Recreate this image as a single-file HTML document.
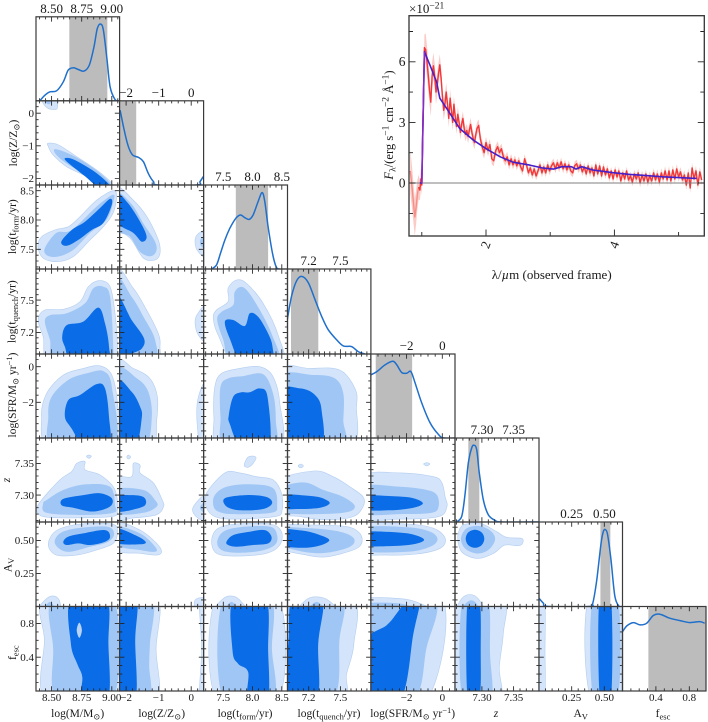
<!DOCTYPE html>
<html lang="en">
<head>
<meta charset="utf-8">
<title>Corner plot and spectrum</title>
<style>
html,body{margin:0;padding:0;background:#fff;width:708px;height:722px;overflow:hidden}
svg{display:block;filter:blur(.3px)}
text{font-family:"Liberation Serif","DejaVu Serif",serif;fill:#1a1a1a}
.sub{font-size:8.5px}
.ssub{font-size:9.5px}
</style>
</head>
<body>
<svg id="fig" xmlns="http://www.w3.org/2000/svg" width="708" height="722" viewBox="0 0 708 722">
<rect width="708" height="722" fill="#fff"/>
<g id="plots"></g>
<g id="spec"></g>
<g font-size="11.5" text-anchor="middle">
<text x="77.7" y="717">log(M/M<tspan class="sub" dy="2.5">⊙</tspan><tspan dy="-2.5">)</tspan></text>
<text x="161.7" y="717">log(Z/Z<tspan class="sub" dy="2.5">⊙</tspan><tspan dy="-2.5">)</tspan></text>
<text x="245" y="717">log(t<tspan class="sub" dy="2.5">form</tspan><tspan dy="-2.5">/yr)</tspan></text>
<text x="329" y="717">log(t<tspan class="sub" dy="2.5">quench</tspan><tspan dy="-2.5">/yr)</tspan></text>
<text x="412.7" y="717">log(SFR/M<tspan class="sub" dy="2.5">⊙</tspan><tspan dy="-2.5"> yr</tspan><tspan class="sub" dy="-4">−1</tspan><tspan dy="4">)</tspan></text>
<text x="496" y="717" font-style="italic">z</text>
<text x="580.7" y="717">A<tspan class="sub" dy="2.5">V</tspan></text>
<text x="663" y="717">f<tspan class="sub" dy="2.5">esc</tspan></text>
</g>
<g font-size="11.5" text-anchor="middle">
<text transform="translate(17,143) rotate(-90)">log(Z/Z<tspan class="sub" dy="2.5">⊙</tspan><tspan dy="-2.5">)</tspan></text>
<text transform="translate(16,226.7) rotate(-90)">log(t<tspan class="sub" dy="2.5">form</tspan><tspan dy="-2.5">/yr)</tspan></text>
<text transform="translate(15.5,311.7) rotate(-90)">log(t<tspan class="sub" dy="2.5">quench</tspan><tspan dy="-2.5">/yr)</tspan></text>
<text transform="translate(16,395) rotate(-90)">log(SFR/M<tspan class="sub" dy="2.5">⊙</tspan><tspan dy="-2.5"> yr</tspan><tspan class="sub" dy="-4">−1</tspan><tspan dy="4">)</tspan></text>
<text transform="translate(10,480) rotate(-90)" font-style="italic">z</text>
<text transform="translate(11.5,565) rotate(-90)">A<tspan class="sub" dy="2.5">V</tspan></text>
<text transform="translate(16,652.7) rotate(-90)">f<tspan class="sub" dy="2.5">esc</tspan></text>
</g>
<text x="409" y="13" font-size="13">×10<tspan font-size="9.5" dy="-4.5">−21</tspan></text>
<text transform="translate(393,125) rotate(-90)" font-size="12.6" text-anchor="middle"><tspan font-style="italic">F</tspan><tspan class="ssub" dy="2.5">λ</tspan><tspan dy="-2.5">/(erg s</tspan><tspan class="ssub" dy="-4.5">−1</tspan><tspan dy="4.5"> cm</tspan><tspan class="ssub" dy="-4.5">−2</tspan><tspan dy="4.5"> Å</tspan><tspan class="ssub" dy="-4.5">−1</tspan><tspan dy="4.5">)</tspan></text>
<text x="551.7" y="279" font-size="13" text-anchor="middle">λ/<tspan font-style="italic">µ</tspan>m (observed frame)</text>
</svg>
<script>
// ---- axis configuration (data limits per parameter) ----
const axisLo = [8.37, -2.2, 7.164, 7.0, -4.0, 7.2575, 0, 0];
const axisHi = [9.065, 0.38, 8.597, 7.788, 0.71, 7.39, 0.639, 1.0];
const paramIds = ['mass', 'metallicity', 'tform', 'tquench', 'sfr', 'redshift', 'av', 'fesc'];
const majorTicks = [[8.5,8.75,9],[-2,-1,0],[7.5,8,8.5],[7.2,7.5],[-2,0],[7.3,7.35],[0.25,0.5],[0.4,0.8]];
const tickText = [['8.50','8.75','9.00'],['−2','−1','0'],['7.5','8.0','8.5'],['7.2','7.5'],['−2','0'],['7.30','7.35'],['0.25','0.50'],['0.4','0.8']];
const minorStep = [0.05, 0.2, 0.1, 0.05, 0.4, 0.01, 0.05, 0.1];

// ---- 1D marginal posteriors ----
const pdfM_x = [8.402,8.444,8.486,8.541,8.597,8.638,8.68,8.722,8.769,8.813,8.852,8.88,8.908,8.93,8.958,8.986,9.027,9.055];
const pdfM_y = [0,.067,.107,.119,.226,.365,.393,.373,.353,.425,.643,.861,.913,.841,.524,.167,.016,0];
const pdfZ_x = [-2.185,-2.06,-1.93,-1.8,-1.62,-1.47,-1.32,-1.16,-1.01,.17,.27,.37];
const pdfZ_y = [.889,.652,.455,.356,.328,.277,.138,.04,0,0,.04,.1];
const pdfTf_x = [7.3,7.384,7.453,7.527,7.612,7.714,7.794,7.868,7.942,8.01,8.095,8.164,8.209,8.266,8.34,8.408,8.465];
const pdfTf_y = [0,.048,.187,.345,.484,.603,.643,.611,.591,.643,.802,.909,.802,.504,.187,.02,0];
const pdfTq_x = [6.998,7.039,7.086,7.134,7.196,7.259,7.322,7.385,7.464,7.527,7.605,7.668,7.731];
const pdfTq_y = [.405,.683,.861,.913,.841,.643,.444,.286,.167,.095,.087,.028,0];
const pdfS_x = [-4.01,-3.67,-3.21,-2.78,-2.55,-2.27,-1.99,-1.76,-1.52,-1.15,-.68,-.21,.07,.7];
const pdfS_y = [.751,.79,.87,.913,.87,.779,.771,.79,.652,.415,.178,.04,0,0];
const pdfZz_x = [7.26,7.268,7.273,7.2785,7.2838,7.2875,7.2917,7.2959,7.3022,7.31,7.3206,7.331,7.389];
const pdfZz_y = [0,.067,.306,.702,.881,.913,.861,.583,.266,.087,.02,0,0];
const pdfA_x = [-.005,.033,.071,.387,.412,.442,.475,.493,.508,.525,.551,.581,.614,.632];
const pdfA_y = [.107,.04,0,0,.04,.316,.751,.889,.909,.85,.553,.119,0,0];
const pdfF_x = [0,.052,.131,.21,.29,.369,.448,.567,.687,.806,.925,.984];
const pdfF_y = [.702,.77,.81,.782,.802,.893,.909,.861,.833,.81,.821,.802];
const bandLo = [8.647,-2.17,7.714,7.033,-3.73,7.2785,.47,.31];
const bandHi = [8.963,-1.69,8.266,7.291,-1.69,7.2959,.546,1.0];

// ---- 2D contours: [outer, middle, inner] levels, each a list of blobs of [x,y] data points ----
const M_Z = [
[[[8.472,-.92],[8.555,-.97],[8.708,-1.33],[8.875,-1.74],[9.0,-2.15],[9.0,-2.35],[8.792,-1.94],[8.625,-1.64],[8.513,-1.28],[8.472,-1.02]],
 [[8.42,.5],[8.43,.3],[8.47,.15],[8.54,.12],[8.55,.3],[8.54,.5]]],
[[[8.53,-1.1],[8.667,-1.28],[8.85,-1.69],[8.985,-2.14],[8.96,-2.3],[8.79,-1.89],[8.64,-1.58],[8.54,-1.28]],
 [[8.44,.5],[8.46,.3],[8.49,.3],[8.5,.5]]],
[[[8.61,-1.38],[8.69,-1.43],[8.875,-1.84],[9.0,-2.3],[8.9,-2.3],[8.78,-1.94],[8.64,-1.53]]]];
const M_Tf = [
[[[8.386,7.544],[8.417,7.715],[8.54,7.84],[8.64,7.885],[8.736,8.056],[8.875,8.34],[9.01,8.5],[9.04,8.4],[9.01,8.115],[8.93,7.885],[8.82,7.66],[8.68,7.375],[8.55,7.29],[8.43,7.35]]],
[[[8.444,7.52],[8.54,7.78],[8.667,7.83],[8.875,8.23],[9.01,8.43],[9.01,8.29],[8.955,8.0],[8.82,7.78],[8.68,7.49],[8.55,7.375],[8.46,7.4]]],
[[[8.58,7.63],[8.667,7.83],[8.777,7.97],[8.9,8.2],[8.985,8.36],[9.0,8.26],[8.93,7.95],[8.833,7.83],[8.722,7.66],[8.625,7.56]]]];
const Z_Tf = [
[[[-2.3,8.55],[-1.78,8.34],[-1.36,8.056],[-1.01,7.66],[-.96,7.43],[-1.11,7.32],[-1.47,7.35],[-1.83,7.66],[-2.3,7.94]],
 [[.45,7.8],[.17,7.74],[.12,7.6],[.21,7.46],[.45,7.38]]],
[[[-2.3,8.45],[-1.83,8.27],[-1.47,7.94],[-1.11,7.63],[-1.08,7.46],[-1.27,7.38],[-1.58,7.46],[-1.88,7.715],[-2.3,7.86]],
 [[.45,7.72],[.3,7.68],[.28,7.58],[.45,7.5]]],
[[[-2.3,8.45],[-1.94,8.285],[-1.57,7.97],[-1.37,7.715],[-1.52,7.63],[-1.78,7.78],[-2.3,7.98]]]];
const M_Tq = [
[[[8.388,7.315],[8.444,7.408],[8.597,7.414],[8.736,7.485],[8.805,7.624],[8.9,7.68],[8.986,7.624],[9.027,7.377],[9.047,7.036],[9.03,6.9],[8.5,6.9],[8.43,7.16]]],
[[[8.444,7.3],[8.486,7.36],[8.625,7.377],[8.777,7.47],[8.847,7.61],[8.93,7.624],[8.986,7.53],[9.013,7.036],[9.0,6.9],[8.54,6.9],[8.486,7.13]]],
[[[8.588,7.16],[8.625,7.268],[8.763,7.3],[8.888,7.43],[8.944,7.284],[8.977,7.067],[8.963,6.9],[8.68,6.9],[8.61,7.067]]]];
const Z_Tq = [
[[[-2.3,7.75],[-1.78,7.61],[-1.37,7.408],[-1.01,7.19],[-.96,7.067],[-1.06,6.9],[-2.3,6.9]],
 [[.45,7.44],[.17,7.36],[.12,7.28],[.22,7.175],[.45,7.13]]],
[[[-2.3,7.68],[-1.83,7.53],[-1.47,7.346],[-1.11,7.13],[-1.14,6.9],[-2.3,6.9]]],
[[[-2.3,7.53],[-1.83,7.315],[-1.45,7.145],[-1.52,7.05],[-1.83,7.0],[-2.3,6.9]]]];
const Tf_Tq = [
[[[7.33,7.33],[7.384,7.408],[7.583,7.485],[7.583,7.61],[7.726,7.686],[7.896,7.655],[8.18,7.47],[8.437,7.175],[8.505,6.9],[7.726,6.9],[7.413,7.175]]],
[[[7.396,7.315],[7.47,7.39],[7.669,7.454],[7.697,7.578],[7.84,7.618],[8.04,7.485],[8.323,7.19],[8.437,6.9],[7.669,6.9],[7.5,7.13]]],
[[[7.527,7.3],[7.669,7.315],[7.868,7.26],[7.953,7.377],[8.095,7.345],[8.266,7.19],[8.34,7.067],[8.323,6.9],[7.84,6.9],[7.61,7.145]]]];
const M_S = [
[[[8.416,-2.81],[8.458,-1.5],[8.597,-.47],[8.763,-.1],[8.9,.05],[9.0,-.47],[9.047,-2.06],[9.047,-4.5],[8.486,-4.5]]],
[[[8.472,-2.81],[8.5,-1.69],[8.638,-.75],[8.79,-.38],[8.93,-.25],[9.0,-1.13],[9.013,-4.5],[8.513,-4.5]]],
[[[8.61,-2.81],[8.638,-1.88],[8.736,-1.59],[8.875,-.98],[8.944,-1.22],[8.977,-2.81],[8.977,-4.5],[8.777,-4.5],[8.666,-3.47]]]];
const Z_S = [
[[[-2.3,.12],[-1.78,-.1],[-1.27,-.66],[-1.04,-1.69],[-1.06,-3],[-1.21,-4.5],[-2.3,-4.5]],
 [[.45,-1.03],[.22,-1.69],[.17,-2.81],[.27,-4.5],[.45,-4.5]]],
[[[-2.3,-.26],[-1.67,-.66],[-1.32,-1.41],[-1.21,-2.81],[-1.42,-4.5],[-2.3,-4.5]]],
[[[-2.3,-.9],[-1.83,-1.41],[-1.57,-2.25],[-1.52,-2.9],[-1.72,-4.5],[-2.3,-4.5]]]];
const Tf_S = [
[[[7.34,-2.81],[7.356,-1.13],[7.47,-.38],[7.78,-.1],[8.124,0],[8.35,-.56],[8.465,-2.06],[8.454,-4.5],[7.44,-4.5]]],
[[[7.453,-2.81],[7.453,-1.13],[7.583,-.66],[7.84,-.53],[8.18,-.43],[8.35,-1.5],[8.397,-3],[8.35,-4.5],[7.527,-4.5]]],
[[[7.595,-2.72],[7.669,-1.69],[7.81,-1.44],[7.953,-1.44],[8.124,-1.22],[8.255,-1.69],[8.277,-4.5],[7.81,-4.5],[7.61,-3.2]]]];
const Tq_S = [
[[[6.9,-.3],[7.2125,-.1],[7.495,-.19],[7.637,-1.22],[7.652,-2.25],[7.59,-4.5],[6.9,-4.5]]],
[[[6.9,-.68],[7.244,-.47],[7.448,-.66],[7.527,-1.5],[7.527,-3],[7.51,-4.5],[6.9,-4.5]]],
[[[6.9,-1.43],[7.118,-1.22],[7.26,-1.59],[7.322,-2.44],[7.307,-4.5],[6.9,-4.5]]]];
const M_Zz = [
[[[8.416,7.292],[8.569,7.324],[8.666,7.337],[8.708,7.35],[8.777,7.353],[8.777,7.34],[8.9,7.332],[9.013,7.313],[9.047,7.292],[9.047,7.276],[9.0,7.266],[8.625,7.264],[8.43,7.266],[8.375,7.276]],
 [[8.79,7.361],[8.81,7.363],[8.83,7.361],[8.81,7.358]]],
[[[8.43,7.287],[8.458,7.272],[8.763,7.2685],[9.013,7.272],[9.027,7.284],[8.986,7.313],[8.79,7.317],[8.597,7.308],[8.458,7.292]]],
[[[8.597,7.294],[8.763,7.30],[8.9,7.303],[9.0,7.295],[8.986,7.282],[8.847,7.274],[8.68,7.28],[8.583,7.284]]]];
const Z_Zz = [
[[[-2.3,7.324],[-1.83,7.329],[-1.78,7.35],[-1.57,7.347],[-1.57,7.335],[-1.16,7.319],[-.89,7.292],[-.85,7.282],[-1.06,7.269],[-1.78,7.264],[-2.3,7.264]],
 [[-1.98,7.36],[-1.93,7.363],[-1.86,7.36],[-1.93,7.357]],
 [[.45,7.30],[.05,7.28],[.17,7.265],[.45,7.262]]],
[[[-2.3,7.308],[-1.47,7.308],[-1.11,7.292],[-1.06,7.282],[-1.47,7.272],[-2.3,7.272]],
 [[.45,7.29],[.27,7.28],[.45,7.27]]],
[[[-2.3,7.297],[-1.83,7.30],[-1.47,7.297],[-1.39,7.287],[-1.57,7.28],[-2.3,7.274]]]];
const Tf_Zz = [
[[[7.214,7.303],[7.527,7.335],[7.78,7.335],[8.067,7.329],[8.35,7.324],[8.494,7.303],[8.505,7.276],[8.38,7.266],[7.669,7.262],[7.356,7.266],[7.214,7.28]],
 [[7.857,7.347],[7.925,7.36],[8.056,7.36],[8.01,7.35],[7.925,7.344]]],
[[[7.356,7.30],[7.555,7.313],[7.953,7.317],[8.35,7.311],[8.42,7.284],[8.323,7.272],[7.669,7.27],[7.413,7.274],[7.33,7.284]]],
[[[7.527,7.295],[7.896,7.30],[8.238,7.297],[8.334,7.287],[8.18,7.278],[7.78,7.276],[7.555,7.282]]]];
const Tq_Zz = [
[[[6.9,7.321],[7.244,7.338],[7.432,7.329],[7.59,7.313],[7.715,7.297],[7.715,7.282],[7.62,7.266],[7.37,7.261],[7.118,7.266],[6.9,7.274]],
 [[7.1,7.346],[7.125,7.349],[7.15,7.346],[7.125,7.343]]],
[[[6.9,7.308],[7.15,7.32],[7.34,7.308],[7.527,7.297],[7.637,7.282],[7.527,7.272],[7.118,7.27],[6.9,7.276]]],
[[[6.9,7.30],[7.244,7.298],[7.37,7.292],[7.395,7.286],[7.307,7.28],[7.118,7.278],[6.9,7.28]]]];
const S_Zz = [
[[[-4.5,7.329],[-2.36,7.335],[-.49,7.329],[-.02,7.319],[.16,7.297],[.26,7.282],[-.21,7.266],[-2.36,7.262],[-4.5,7.266]],
 [[-1.05,7.349],[-.87,7.351],[-.7,7.349],[-.87,7.346]]],
[[[-4.5,7.313],[-2.36,7.313],[-.87,7.308],[-.3,7.30],[-.21,7.282],[-.59,7.272],[-2.36,7.27],[-4.5,7.272]]],
[[[-4.5,7.298],[-2.74,7.298],[-1.62,7.295],[-1.09,7.287],[-1.62,7.28],[-2.93,7.276],[-4.5,7.278]]]];
const M_A = [
[[[8.472,.465],[8.527,.566],[8.68,.616],[8.9,.629],[9.027,.616],[9.047,.553],[9.013,.477],[8.875,.427],[8.708,.389],[8.54,.389]],
 [[8.388,-.03],[8.458,.06],[8.527,.078],[8.569,.035],[8.555,-.03]]],
[[[8.527,.477],[8.569,.553],[8.708,.591],[8.958,.604],[9.019,.553],[8.972,.49],[8.819,.452],[8.625,.414]],
 [[8.43,-.03],[8.486,.035],[8.527,-.03]]],
[[[8.597,.49],[8.638,.528],[8.763,.553],[8.944,.578],[8.986,.528],[8.944,.49],[8.819,.465],[8.722,.477],[8.625,.465]]]];
const Z_A = [
[[[-2.3,.63],[-1.57,.578],[-1.06,.477],[-.91,.414],[-1.06,.389],[-1.57,.402],[-2.3,.43]],
 [[.45,.06],[.17,.06],[.09,.023],[.17,-.03],[.45,-.03]]],
[[[-2.3,.6],[-1.57,.553],[-1.11,.452],[-1.11,.414],[-1.57,.427],[-2.3,.465]]],
[[[-2.3,.59],[-1.72,.54],[-1.4,.49],[-1.57,.47],[-2.3,.482]]]];
const Tf_A = [
[[[7.3,.503],[7.413,.591],[7.726,.624],[8.295,.624],[8.494,.566],[8.465,.465],[8.238,.402],[7.726,.381],[7.384,.402]],
 [[7.373,-.03],[7.5,.06],[7.669,.078],[7.81,.035],[7.868,-.03]]],
[[[7.396,.49],[7.5,.566],[7.78,.6],[8.295,.604],[8.42,.54],[8.38,.465],[8.124,.42],[7.726,.407],[7.47,.427]],
 [[7.527,-.03],[7.64,.035],[7.754,-.03]]],
[[[7.555,.49],[7.669,.54],[7.953,.566],[8.21,.578],[8.323,.528],[8.266,.477],[8.01,.465],[7.726,.452],[7.583,.465]]]];
const Tq_A = [
[[[6.9,.604],[7.244,.616],[7.558,.604],[7.684,.553],[7.7,.477],[7.62,.427],[7.37,.376],[7.18,.389],[6.9,.45]],
 [[7.118,-.03],[7.18,.053],[7.275,.073],[7.385,.048],[7.448,-.03]]],
[[[6.9,.591],[7.212,.591],[7.495,.566],[7.627,.515],[7.59,.452],[7.37,.407],[7.15,.414],[6.9,.48]],
 [[7.196,-.03],[7.275,.035],[7.354,-.03]]],
[[[6.9,.58],[7.15,.573],[7.307,.54],[7.395,.503],[7.322,.465],[7.15,.444],[6.9,.47]]]];
const S_A = [
[[[-4.5,.616],[-1.99,.624],[-.49,.591],[.16,.515],[-.12,.44],[-1.43,.397],[-3.11,.389],[-4.5,.414]],
 [[-4.5,.06],[-2.36,.06],[-1.24,.023],[-.87,-.03],[-4.5,-.03]]],
[[[-4.5,.591],[-1.99,.6],[-.68,.566],[-.27,.508],[-.68,.452],[-1.99,.414],[-4.5,.427]],
 [[-4.5,.023],[-2.36,.023],[-1.62,-.03],[-4.5,-.03]]],
[[[-4.5,.56],[-2.55,.56],[-1.52,.54],[-1.02,.503],[-1.62,.47],[-2.93,.457],[-4.5,.465]]]];
const Zz_A = [
[[[7.2627,.553],[7.2706,.616],[7.297,.629],[7.3232,.566],[7.339,.523],[7.3626,.515],[7.364,.477],[7.357,.459],[7.336,.464],[7.318,.401],[7.294,.363],[7.2706,.401],[7.2627,.477]],
 [[7.2627,-.03],[7.268,.06],[7.281,.091],[7.294,.06],[7.301,-.03]]],
[[[7.267,.515],[7.276,.591],[7.297,.608],[7.3153,.566],[7.3206,.502],[7.31,.427],[7.2917,.401],[7.2733,.439]],
 [[7.268,-.03],[7.2785,.04],[7.289,.035],[7.294,-.03]]],
[[[7.2743,.513],[7.2785,.56],[7.289,.581],[7.2995,.56],[7.3037,.513],[7.2995,.464],[7.289,.444],[7.2785,.464]]]];
const M_F = [
[[[8.444,1.1],[8.44,.6],[8.455,-.1],[9.055,-.1],[9.055,1.1]]],
[[[8.513,1.1],[8.513,.5],[8.547,-.1],[9.008,-.1],[9.008,1.1]]],
[[[8.66,1.1],[8.66,.56],[8.713,.32],[8.755,.165],[8.755,-.1],[8.966,-.1],[8.972,.56],[8.952,1.1]]],
[[[8.708,.72],[8.73,.81],[8.752,.72],[8.73,.63]]]];
const Z_F = [
[[[-2.4,1.1],[-2.4,-.1],[-1.06,-.1],[-1.08,.5],[-1.04,1.1]],
 [[.25,1.1],[.32,.5],[.25,-.1],[.5,-.1],[.5,1.1]]],
[[[-2.4,1.1],[-2.4,-.1],[-1.31,-.1],[-1.29,.3],[-1.27,.56],[-1.21,1.1]]],
[[[-2.4,1.1],[-2.4,-.1],[-1.72,-.1],[-1.72,.6],[-1.69,1.1]]]];
const Tf_F = [
[[[7.384,1.1],[7.384,-.1],[8.437,-.1],[8.437,1.1]]],
[[[7.5,1.1],[7.5,-.1],[8.34,-.1],[8.33,.5],[8.3,1.1]]],
[[[7.669,1.1],[7.657,.482],[7.754,.323],[7.925,.224],[7.925,-.1],[8.255,-.1],[8.266,.482],[8.22,1.1]]]];
const Tq_F = [
[[[6.9,1.1],[6.9,-.1],[7.51,-.1],[7.558,.2],[7.627,.56],[7.6,1.1]]],
[[[6.9,1.1],[6.9,-.1],[7.423,-.1],[7.49,.6],[7.495,1.1]]],
[[[7.05,1.1],[7.01,.6],[6.98,-.1],[7.275,-.1],[7.29,.56],[7.328,1.1]]]];
const S_F = [
[[[-4.5,1.1],[-4.5,-.1],[-.87,-.1],[-.02,1.1]]],
[[[-4.5,1.1],[-4.5,-.1],[-1.62,-.1],[-.9,.5],[-.49,1.1]]],
[[[-1.9,1.1],[-2.55,.92],[-3.11,.78],[-4.5,.55],[-4.5,-.1],[-2.36,-.1],[-1.62,.68],[-1.24,1.1]]]];
const Zz_F = [
[[[7.2627,1.1],[7.2627,-.1],[7.3274,-.1],[7.3274,.28],[7.3337,.68],[7.3337,1.1]]],
[[[7.2696,1.1],[7.2696,-.1],[7.3137,-.1],[7.3127,.44],[7.3085,1.1]]],
[[[7.2775,1.1],[7.2775,-.1],[7.2959,-.1],[7.298,.48],[7.2959,1.1]]]];
const A_F = [
[[[-.05,1.1],[-.05,-.1],[.041,-.1],[.046,.48],[.04,1.1]],
 [[.381,1.1],[.399,-.1],[.7,-.1],[.7,1.1]]],
[[[.412,1.1],[.417,-.1],[.601,-.1],[.601,1.1]]],
[[[.462,1.1],[.467,-.1],[.551,-.1],[.551,1.1]]]];

// ---- spectrum ----
const lam = [.82,.85,.87,.89,.91,.93,.95,.97,.985,1.0,1.02,1.04,1.06,1.08,1.10,1.12,1.14,1.16,1.18,1.20,1.22,1.24,1.26,1.28,1.30,1.32,1.34,1.36,1.38,1.40,1.42,1.44,1.46,1.48,1.50,1.52,1.54,1.56,1.58,1.60,1.62,1.64,1.66,1.68,1.70,1.72,1.74,1.76,1.78,1.80,1.82,1.84,1.86,1.885,1.91,1.94,1.97,2.0,2.03,2.06,2.09,2.12,2.15,2.18,2.21,2.24,2.27,2.30,2.33,2.36,2.39,2.42,2.45,2.48,2.51,2.54,2.57,2.60,2.63,2.66,2.69,2.72,2.75,2.78,2.81,2.84,2.87,2.90,2.93,2.96,2.99,3.02,3.05,3.08,3.11,3.14,3.17,3.20,3.23,3.26,3.29,3.32,3.35,3.38,3.41,3.44,3.47,3.50,3.53,3.56,3.59,3.62,3.65,3.68,3.71,3.74,3.77,3.80,3.83,3.86,3.89,3.92,3.95,3.98,4.01,4.04,4.07,4.10,4.13,4.16,4.19,4.22,4.25,4.28,4.31,4.34,4.37,4.40,4.43,4.46,4.49,4.52,4.55,4.58,4.61,4.64,4.67,4.70,4.73,4.76,4.79,4.82,4.85,4.88,4.91,4.94,4.97,5.0,5.03,5.06,5.09,5.12,5.15,5.18,5.21,5.24,5.27,5.30,5.33,5.36];
const flux = [.6,-.3,-1.0,-1.7,-1.2,-.6,-.2,-.35,.2,-.1,3.5,6.7,6.6,6.0,5.3,4.6,4.0,5.3,5.8,5.3,4.5,4.9,5.4,5.85,5.2,4.3,3.6,3.9,4.5,3.9,3.2,4.2,3.6,3.0,3.9,3.3,2.8,3.4,3.0,2.5,2.9,3.2,2.7,2.4,2.6,2.3,2.6,2.9,2.5,2.2,2.0,2.4,2.7,2.85,2.2,1.8,1.5,2.0,1.6,1.9,1.2,1.1,1.6,1.8,1.5,1.7,1.3,1.1,1.3,.9,1.2,.9,1.15,.85,1.1,.8,.6,1.2,.9,.5,.75,.4,.7,.35,.6,.9,.5,.8,.5,.9,.6,.85,1.0,.7,1.0,.75,1.05,.7,.95,.65,.9,.6,.5,.85,.95,.7,.9,.55,.8,.45,.85,.5,.75,.35,.9,.45,.85,.35,.8,.4,.7,.25,.6,.2,.65,.3,.6,.1,.5,.2,.6,.15,.35,.05,.45,.2,.5,0,.4,.1,.45,.05,.35,.1,.5,.15,.45,.05,.5,.2,.6,.15,.6,.1,.65,.2,.7,.3,.55,.15,.4,-.1,.5,-.25,.75,.2,.6,-.1,.55,.15];
const errLam = [.82,.9,.97,1.02,1.06,1.3,1.6,2.5,4,5.36];
const errVal = [1.1,.9,.5,.5,.8,.5,.35,.22,.2,.25];
const modelLam = [.97,1.0,1.04,1.125,1.23,1.28,1.385,1.59,1.8,2.01,2.22,2.42,2.68,2.89,3.05,3.18,3.33,3.4,3.49,3.67,3.98,4.24,4.5,4.75,5.28];
const modelFlux = [0,0,6.5,5.84,5.0,4.2,3.7,2.7,2.13,1.68,1.3,1.03,.89,.74,.69,.81,.81,.69,.81,.64,.51,.43,.37,.31,.23];
const specXTicks = [1,2,3,4,5];
const specXLabels = ['','2','','4',''];
const specYTicks = [-1.5,0,1.5,3,4.5,6,7.5];
const specYLabels = ['','0','','3','','6',''];

const pdfXs = [pdfM_x,pdfZ_x,pdfTf_x,pdfTq_x,pdfS_x,pdfZz_x,pdfA_x,pdfF_x];
const pdfYs = [pdfM_y,pdfZ_y,pdfTf_y,pdfTq_y,pdfS_y,pdfZz_y,pdfA_y,pdfF_y];
const panelData = [[0,1,M_Z],[0,2,M_Tf],[1,2,Z_Tf],[0,3,M_Tq],[1,3,Z_Tq],[2,3,Tf_Tq],[0,4,M_S],[1,4,Z_S],[2,4,Tf_S],[3,4,Tq_S],[0,5,M_Zz],[1,5,Z_Zz],[2,5,Tf_Zz],[3,5,Tq_Zz],[4,5,S_Zz],[0,6,M_A],[1,6,Z_A],[2,6,Tf_A],[3,6,Tq_A],[4,6,S_A],[5,6,Zz_A],[0,7,M_F],[1,7,Z_F],[2,7,Tf_F],[3,7,Tq_F],[4,7,S_F],[5,7,Zz_F],[6,7,A_F]];

// ---- layout ----
const colEdge = [36,119.6,203.6,287.5,370.9,455,539,622.5,706];
const rowEdge = [16.8,100.8,185,269,354,438,522,606.5,691];
const levelFill = ['#d4e4fa','#9fc6f5','#0a6ce6','#b9d3f6'];
const levelName = ['outer','middle','inner','hole'];
const NS = 'http://www.w3.org/2000/svg';
const plots = document.getElementById('plots');
const spec = document.getElementById('spec');

function mk(tag, attrs, parent) {
  const el = document.createElementNS(NS, tag);
  for (const k in attrs) el.setAttribute(k, attrs[k]);
  parent.appendChild(el);
  return el;
}
function xPos(i, v) { return colEdge[i] + (v - axisLo[i]) / (axisHi[i] - axisLo[i]) * (colEdge[i+1] - colEdge[i]); }
function yPos(j, v) { return rowEdge[j+1] - (v - axisLo[j]) / (axisHi[j] - axisLo[j]) * (rowEdge[j+1] - rowEdge[j]); }
function closedSmooth(p) {
  const n = p.length;
  let d = 'M' + p[0][0].toFixed(1) + ' ' + p[0][1].toFixed(1);
  for (let k = 0; k < n; k++) {
    const a = p[(k-1+n)%n], b = p[k], c = p[(k+1)%n], e = p[(k+2)%n];
    const c1x = b[0] + (c[0]-a[0])/6, c1y = b[1] + (c[1]-a[1])/6;
    const c2x = c[0] - (e[0]-b[0])/6, c2y = c[1] - (e[1]-b[1])/6;
    d += 'C' + c1x.toFixed(1)+' '+c1y.toFixed(1)+' '+c2x.toFixed(1)+' '+c2y.toFixed(1)+' '+c[0].toFixed(1)+' '+c[1].toFixed(1);
  }
  return d + 'Z';
}
function openSmooth(p) {
  const n = p.length;
  let d = 'M' + p[0][0].toFixed(1) + ' ' + p[0][1].toFixed(1);
  for (let k = 0; k < n-1; k++) {
    const a = p[Math.max(k-1,0)], b = p[k], c = p[k+1], e = p[Math.min(k+2,n-1)];
    d += 'C' + (b[0]+(c[0]-a[0])/6).toFixed(1)+' '+(b[1]+(c[1]-a[1])/6).toFixed(1)+' '+(c[0]-(e[0]-b[0])/6).toFixed(1)+' '+(c[1]-(e[1]-b[1])/6).toFixed(1)+' '+c[0].toFixed(1)+' '+c[1].toFixed(1);
  }
  return d;
}
function minorValues(i) {
  const out = [];
  const s = minorStep[i];
  const start = Math.ceil(axisLo[i] / s - 1e-6);
  for (let k = start; k * s <= axisHi[i] + 1e-9; k++) out.push(k * s);
  return out;
}
function isMajor(i, v) { return majorTicks[i].some(m => Math.abs(m - v) < 1e-6); }

function xTicks(g, i, j) {
  let d = '';
  const t = rowEdge[j], b = rowEdge[j+1];
  minorValues(i).forEach(v => {
    if (isMajor(i, v)) return;
    const x = xPos(i, v).toFixed(1);
    d += 'M'+x+' '+t+'v2.6M'+x+' '+b+'v-2.6';
  });
  majorTicks[i].forEach(v => {
    const x = xPos(i, v).toFixed(1);
    d += 'M'+x+' '+t+'v4.8M'+x+' '+b+'v-4.8';
  });
  const el = mk('path', {d: d, stroke: '#222', 'stroke-width': .85, fill: 'none'}, g);
  
  
}
function yTicks(g, i, j) {
  let d = '';
  const l = colEdge[i], r = colEdge[i+1];
  minorValues(j).forEach(v => {
    if (isMajor(j, v)) return;
    const y = yPos(j, v).toFixed(1);
    d += 'M'+l+' '+y+'h2.6M'+r+' '+y+'h-2.6';
  });
  majorTicks[j].forEach(v => {
    const y = yPos(j, v).toFixed(1);
    d += 'M'+l+' '+y+'h4.8M'+r+' '+y+'h-4.8';
  });
  const el = mk('path', {d: d, stroke: '#222', 'stroke-width': .85, fill: 'none'}, g);
  
  
}
function frame(g, i, j) {
  const el = mk('rect', {x: colEdge[i], y: rowEdge[j], width: colEdge[i+1]-colEdge[i], height: rowEdge[j+1]-rowEdge[j], fill: 'none', stroke: '#3a3a3a', 'stroke-width': 1.2}, g);
  
  
}
function clipFor(id, x, y, w, h) {
  const c = mk('clipPath', {id: id}, plots);
  mk('rect', {x: x, y: y, width: w, height: h}, c);
}

// contour panels
panelData.forEach(([i, j, levels]) => {
  const g = mk('g', {}, plots);
  
  
  const id = 'clip-' + i + '-' + j;
  clipFor(id, colEdge[i], rowEdge[j], colEdge[i+1]-colEdge[i], rowEdge[j+1]-rowEdge[j]);
  const inner = mk('g', {'clip-path': 'url(#' + id + ')'}, g);
  levels.forEach((blobs, lv) => {
    blobs.forEach(blob => {
      const pts = blob.map(q => [xPos(i, q[0]), yPos(j, q[1])]);
      const path = mk('path', {d: closedSmooth(pts), fill: levelFill[lv], stroke: lv === 0 ? '#b3cef0' : 'none', 'stroke-width': .6}, inner);
      
      
    });
  });
  xTicks(g, i, j);
  yTicks(g, i, j);
  frame(g, i, j);
});

// 1D panels
for (let i = 0; i < 8; i++) {
  const g = mk('g', {}, plots);
  
  
  const id = 'clip-d-' + i;
  const top = rowEdge[i], bot = rowEdge[i+1], h = bot - top;
  clipFor(id, colEdge[i], top, colEdge[i+1]-colEdge[i], h);
  const inner = mk('g', {'clip-path': 'url(#' + id + ')'}, g);
  const band = mk('rect', {x: xPos(i, bandLo[i]), y: top, width: xPos(i, bandHi[i]) - xPos(i, bandLo[i]), height: h, fill: '#bcbcbc'}, inner);
  
  
  const pts = pdfXs[i].map((v, k) => [xPos(i, v), bot - pdfYs[i][k] * h]);
  const curve = mk('path', {d: openSmooth(pts), fill: 'none', stroke: '#1f6fcb', 'stroke-width': 1.5}, inner);
  
  
  xTicks(g, i, i);
  frame(g, i, i);
  // top tick labels (none above the last column)
  if (i < 7) {
    majorTicks[i].forEach((v, k) => {
      const t = mk('text', {x: xPos(i, v), y: top - 4, 'font-size': 13, 'text-anchor': 'middle'}, g);
      t.textContent = tickText[i][k];
      
      
    });
  }
  // bottom tick labels
  majorTicks[i].forEach((v, k) => {
    const t = mk('text', {x: xPos(i, v), y: 701, 'font-size': 11, 'text-anchor': 'middle'}, plots);
    t.textContent = tickText[i][k];
    
    
  });
  // left tick labels
  if (i > 0) {
    majorTicks[i].forEach((v, k) => {
      const t = mk('text', {x: 34, y: yPos(i, v) + 3.7, 'font-size': 11, 'text-anchor': 'end'}, plots);
      t.textContent = tickText[i][k];
      
      
    });
  }
}

// spectrum panel
const sL = 409, sR = 704.3, sT = 15.7, sB = 236;
const sxLo = 0.8, sxHi = 5.4, syLo = -2.62, syHi = 8.28;
function sx(v) { return sL + (v - sxLo) / (sxHi - sxLo) * (sR - sL); }
function sy(v) { return sB - (v - syLo) / (syHi - syLo) * (sB - sT); }
function errAt(v) {
  for (let k = 0; k < errLam.length - 1; k++) {
    if (v <= errLam[k+1]) return errVal[k] + (errVal[k+1]-errVal[k]) * (v-errLam[k]) / (errLam[k+1]-errLam[k]);
  }
  return errVal[errVal.length-1];
}
const sc = mk('clipPath', {id: 'clip-spec'}, spec);
mk('rect', {x: sL, y: sT, width: sR-sL, height: sB-sT}, sc);
const sg = mk('g', {'clip-path': 'url(#clip-spec)'}, spec);
const up = lam.map((v, k) => flux[k] + errAt(v));
const dn = lam.map((v, k) => flux[k] - errAt(v));
const bandPts = lam.map((v, k) => sx(v).toFixed(1) + ',' + sy(up[k]).toFixed(1)).concat(lam.map((v, k) => sx(v).toFixed(1) + ',' + sy(dn[k]).toFixed(1)).reverse());
const errBand = mk('polygon', {points: bandPts.join(' '), fill: '#f8a9a2', 'fill-opacity': .6}, sg);


const iStart = lam.findIndex(v => v >= 0.95);
const palePts = lam.slice(0, iStart + 1).map((v, k) => sx(v).toFixed(1) + ',' + sy(flux[k]).toFixed(1)).join(' ');
const pale = mk('polyline', {points: palePts, fill: 'none', stroke: '#f58f88', 'stroke-width': 1.4}, sg);


const obsPts = lam.slice(iStart).map((v, k) => sx(v).toFixed(1) + ',' + sy(flux[k + iStart]).toFixed(1)).join(' ');
const obs = mk('polyline', {points: obsPts, fill: 'none', stroke: '#f0373a', 'stroke-width': 1.4, 'stroke-linejoin': 'round'}, sg);


const zero = mk('line', {x1: sL, x2: sR, y1: sy(0), y2: sy(0), stroke: '#7f7f7f', 'stroke-width': 1}, sg);


const modelPts = modelLam.map((v, k) => sx(v).toFixed(1) + ',' + sy(modelFlux[k]).toFixed(1)).join(' ');
const model = mk('polyline', {points: modelPts, fill: 'none', stroke: '#4520c8', 'stroke-width': 1.6, 'stroke-linejoin': 'round'}, sg);


const risePts = modelLam.slice(1, 3).map((v, k) => sx(v).toFixed(1) + ',' + sy(modelFlux[k + 1]).toFixed(1)).join(' ');
const rise = mk('polyline', {points: risePts, fill: 'none', stroke: '#8a2cc0', 'stroke-width': 1.6}, sg);


let stick = '';
specXTicks.forEach((v, k) => {
  const len = specXLabels[k] ? 6.5 : 4;
  stick += 'M' + sx(v).toFixed(1) + ' ' + sB + 'v-' + len;
  if (specXLabels[k]) {
    const x = sx(v), y = 245;
    const t = mk('text', {x: x, y: y + 4, 'font-size': 13, 'text-anchor': 'middle', transform: 'rotate(-70 ' + x + ' ' + y + ')'}, spec);
    t.textContent = specXLabels[k];
    
    
  }
});
specYTicks.forEach((v, k) => {
  const len = specYLabels[k] ? 6.5 : 4;
  const y = sy(v).toFixed(1);
  stick += 'M' + sL + ' ' + y + 'h' + len + 'M' + sR + ' ' + y + 'h-' + len;
  if (specYLabels[k]) {
    const t = mk('text', {x: 405.5, y: sy(v) + 4.4, 'font-size': 13.5, 'text-anchor': 'end'}, spec);
    t.textContent = specYLabels[k];
    
    
  }
});
const sticks = mk('path', {d: stick, stroke: '#222', 'stroke-width': .9, fill: 'none'}, spec);


const sframe = mk('rect', {x: sL, y: sT, width: sR-sL, height: sB-sT, fill: 'none', stroke: '#333', 'stroke-width': 1.3}, spec);


</script>
</body>
</html>
